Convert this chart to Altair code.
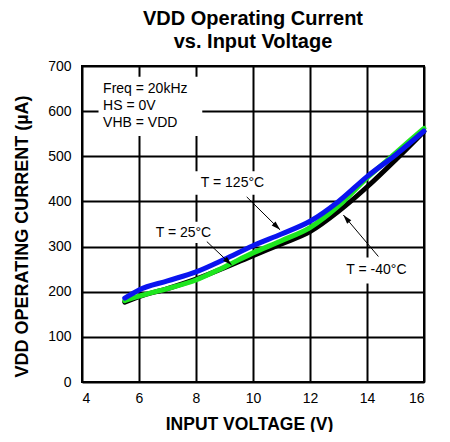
import math
import altair as alt
import pandas as pd

# ---------------- data ----------------
voltage = [5.5, 6, 7, 8, 9, 10, 11, 12, 13, 14, 15, 16]
i_m40 = [177, 189, 207, 228, 253, 280, 306, 333, 378, 432, 492, 555]
i_25 = [180, 190, 207, 226, 255, 286, 313, 342, 390, 452, 507, 562]
i_125 = [186, 204, 224, 244, 272, 302, 328, 356, 400, 455, 503, 556]

series_names = ["T = -40°C", "T = 25°C", "T = 125°C"]
series_values = [i_m40, i_25, i_125]
series_colors = ["#000000", "#1ee61e", "#0a14f0"]

# label positions (data units)
label_text = ["T = 125°C", "T = 25°C", "T = -40°C"]
label_x = [9.28, 7.56, 14.33]
label_y = [440, 331, 248]
box_x1 = [7.95, 6.40, 13.10]
box_x2 = [10.65, 8.70, 15.55]
box_y1 = [467, 355, 276]
box_y2 = [415, 308, 218]

arrow_x1 = [9.78, 8.38, 14.40]
arrow_y1 = [410, 311, 278]
arrow_x2 = [10.95, 9.25, 13.17]
arrow_y2 = [337, 259, 370]

note_lines = ["Freq = 20kHz", "HS = 0V", "VHB = VDD"]
note_x = 4.74
note_y = [650, 611, 573]
note_box = dict(x1=4.58, x2=8.22, y1=676, y2=545)

x_ticks = [4, 6, 8, 10, 12, 14, 16]
y_ticks = [0, 100, 200, 300, 400, 500, 600, 700]

# ---------------- layout ----------------
W, H = 342, 316
FONT = "Liberation Sans"
kx = W / 12.0
ky = H / 700.0

xs = alt.Scale(domain=[4, 16], nice=False, zero=False)
ys = alt.Scale(domain=[0, 700], nice=False)

xaxis = alt.Axis(values=x_ticks, title="INPUT VOLTAGE (V)", grid=True,
                 gridColor="black", gridWidth=2, gridOpacity=1,
                 domain=False, ticks=False, labelPadding=9,
                 labelFont=FONT, labelFontSize=14, labelColor="black",
                 titleFont=FONT, titleFontSize=17.5, titleFontWeight="bold",
                 titleColor="black", titleX=167, titleY=42,
                 titleAlign="center", titleBaseline="middle")
yaxis = alt.Axis(values=y_ticks, title="VDD OPERATING CURRENT (µA)", grid=True,
                 gridColor="black", gridWidth=2, gridOpacity=1,
                 domain=False, ticks=False, labelPadding=11,
                 labelFont=FONT, labelFontSize=14, labelColor="black",
                 titleFont=FONT, titleFontSize=18, titleFontWeight="bold",
                 titleColor="black", titleX=-60, titleY=170,
                 titleAngle=270, titleAlign="center", titleBaseline="middle")


def X(f):
    return alt.X(f, type="quantitative", scale=xs, axis=xaxis)


def Y(f):
    return alt.Y(f, type="quantitative", scale=ys, axis=yaxis)


layers = []

# white boxes behind annotations
boxes = pd.DataFrame({
    "x1": box_x1 + [note_box["x1"]],
    "x2": box_x2 + [note_box["x2"]],
    "y1": box_y1 + [note_box["y1"]],
    "y2": box_y2 + [note_box["y2"]],
})
layers.append(alt.Chart(boxes).mark_rect(fill="white", stroke=None).encode(
    x=X("x1"), x2="x2", y=Y("y1"), y2="y2"))

# curves
for name, vals, col in zip(series_names, series_values, series_colors):
    d = pd.DataFrame({"V": voltage, "I": vals})
    layers.append(alt.Chart(d).mark_line(
        color=col, strokeWidth=5, strokeCap="round", strokeJoin="round",
        interpolate="monotone").encode(x=X("V"), y=Y("I")))

# arrows
arr = pd.DataFrame({"x1": arrow_x1, "y1": arrow_y1, "x2": arrow_x2, "y2": arrow_y2})
arr["ang"] = [
    (math.degrees(math.atan2((b - a) * kx, (d - c) * ky)) + 360) % 360
    for a, b, c, d in zip(arrow_x1, arrow_x2, arrow_y1, arrow_y2)
]
layers.append(alt.Chart(arr).mark_rule(color="black", strokeWidth=1).encode(
    x=X("x1"), x2="x2", y=Y("y1"), y2="y2"))
layers.append(alt.Chart(arr).mark_point(
    shape="M0,0L-0.3,1L0.3,1Z", filled=True, color="black", size=330, opacity=1
).encode(x=X("x2"), y=Y("y2"), angle=alt.Angle("ang:Q", scale=None)))

# labels
lab = pd.DataFrame({"t": label_text, "x": label_x, "y": label_y})
layers.append(alt.Chart(lab).mark_text(
    font=FONT, fontSize=14, color="black", align="center", baseline="middle"
).encode(x=X("x"), y=Y("y"), text="t:N"))

notes = pd.DataFrame({"t": note_lines, "x": [note_x] * 3, "y": note_y})
layers.append(alt.Chart(notes).mark_text(
    font=FONT, fontSize=14, color="black", align="left", baseline="middle"
).encode(x=X("x"), y=Y("y"), text="t:N"))

chart = alt.layer(*layers).properties(
    width=W, height=H,
    title=alt.TitleParams(["VDD Operating Current", "vs. Input Voltage"],
                          font=FONT, fontSize=20, fontWeight="bold",
                          color="black", anchor="middle", lineHeight=23,
                          offset=7),
    autosize=alt.AutoSizeParams(type="none"),
    padding={"left": 74, "top": 58, "right": 16, "bottom": 50},
).configure_view(stroke="black", strokeWidth=2)

chart.save("out.html", embed_options={"renderer": "svg", "actions": False})
